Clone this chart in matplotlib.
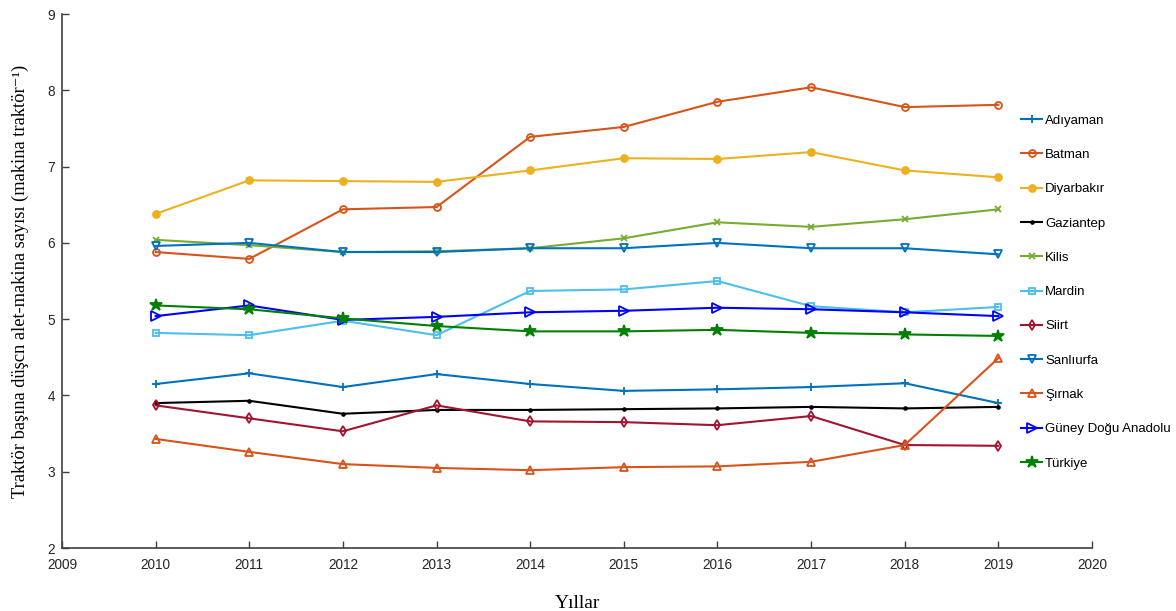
import matplotlib
matplotlib.use("Agg")
import matplotlib.pyplot as plt

years = [2010, 2011, 2012, 2013, 2014, 2015, 2016, 2017, 2018, 2019]

adiyaman = [4.15, 4.29, 4.11, 4.28, 4.15, 4.06, 4.08, 4.11, 4.16, 3.90]
batman = [5.88, 5.79, 6.44, 6.47, 7.39, 7.52, 7.85, 8.04, 7.78, 7.81]
diyarbakir = [6.38, 6.82, 6.81, 6.80, 6.95, 7.11, 7.10, 7.19, 6.95, 6.86]
gaziantep = [3.90, 3.93, 3.76, 3.81, 3.81, 3.82, 3.83, 3.85, 3.83, 3.85]
kilis = [6.04, 5.97, 5.88, 5.89, 5.93, 6.06, 6.27, 6.21, 6.31, 6.44]
mardin = [4.82, 4.79, 4.98, 4.79, 5.37, 5.39, 5.50, 5.17, 5.09, 5.16]
siirt = [3.87, 3.70, 3.53, 3.87, 3.66, 3.65, 3.61, 3.73, 3.35, 3.34]
sanliurfa = [5.96, 6.00, 5.88, 5.88, 5.93, 5.93, 6.00, 5.93, 5.93, 5.85]
sirnak = [3.43, 3.26, 3.10, 3.05, 3.02, 3.06, 3.07, 3.13, 3.35, 4.49]
gda = [5.04, 5.18, 4.99, 5.03, 5.09, 5.11, 5.15, 5.13, 5.09, 5.04]
turkiye = [5.18, 5.13, 5.01, 4.91, 4.84, 4.84, 4.86, 4.82, 4.80, 4.78]

# (label, values, colour, marker, filled)
series = [
    ("Adıyaman", adiyaman, "#0072BD", "+", False),
    ("Batman", batman, "#D95319", "o", False),
    ("Diyarbakır", diyarbakir, "#EDB120", "o", True),
    ("Gaziantep", gaziantep, "#000000", ".", True),
    ("Kilis", kilis, "#77AC30", "x", False),
    ("Mardin", mardin, "#4DBEEE", "s", False),
    ("Siirt", siirt, "#A2142F", "d", False),
    ("Sanlıurfa", sanliurfa, "#0072BD", "v", False),
    ("Şırnak", sirnak, "#D95319", "^", False),
    ("Güney Doğu Anadolu", gda, "#0000FF", ">", False),
    ("Türkiye", turkiye, "#008000", "*", True),
]

marker_size = {"o": 5, "s": 4.5, "d": 5, "v": 6, "^": 6, ">": 7, "*": 9,
               "+": 6, "x": 5, ".": 4}

plt.rcParams["font.family"] = ["Liberation Sans", "DejaVu Sans"]

fig = plt.figure(figsize=(11.76, 6.11), dpi=100)
ax = fig.add_axes([0.0527, 0.1031, 0.8759, 0.8739])

for label, vals, color, marker, filled in series:
    ax.plot(years, vals, color=color, marker=marker,
            markersize=marker_size[marker],
            markerfacecolor=color if filled else "none",
            markeredgewidth=1.3, linewidth=1.5, label=label)

ax.set_xlim(2009, 2020)
ax.set_ylim(2, 9)
ax.set_xticks(range(2009, 2021))
ax.set_yticks(range(2, 10))

for side in ("top", "right"):
    ax.spines[side].set_visible(False)
for side in ("left", "bottom"):
    ax.spines[side].set_color("#404040")
    ax.spines[side].set_linewidth(1.2)
ax.tick_params(direction="in", length=5, width=1, colors="#404040",
               labelsize=9.8, labelcolor="#262626")
ax.tick_params(axis="x", pad=7)
ax.tick_params(axis="y", pad=5)

ax.set_ylabel("Traktör başına düşcn alet-makina sayısı (makina traktör⁻¹)",
              family=["Liberation Serif", "DejaVu Serif"], fontsize=13.3,
              labelpad=13)
ax.set_xlabel("Yıllar", family=["Liberation Serif", "DejaVu Serif"],
              fontsize=14, labelpad=17)

fig.legend(loc="center left", bbox_to_anchor=(0.864, 0.522), frameon=False,
           fontsize=9.5, labelspacing=1.67, handlelength=1.6,
           handletextpad=0.2, borderaxespad=0)

fig.savefig("out.png", dpi=100)
